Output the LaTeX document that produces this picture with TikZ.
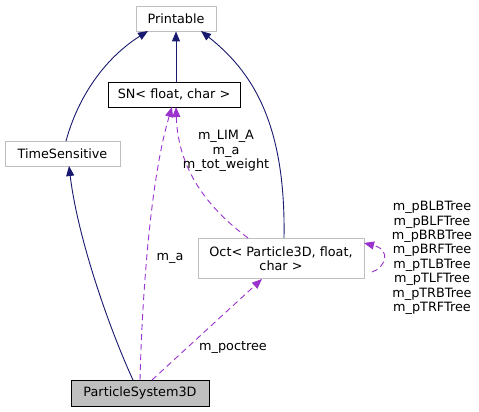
\documentclass[tikz,border=0pt]{standalone}
\usepackage{fontspec}
\setmainfont{DejaVu Sans}
\usetikzlibrary{arrows.meta}
\definecolor{navy}{HTML}{191970}
\definecolor{orchid}{HTML}{9A32CD}
\definecolor{lgray}{HTML}{BFBFBF}
\begin{document}
\begin{tikzpicture}[x=1pt,y=-1pt,
  every node/.style={font=\fontsize{12.8}{14.4}\selectfont, inner sep=0pt},
  cls/.style={draw=lgray, line width=0.9pt, fill=white, align=center},
  clsb/.style={draw=black, line width=0.9pt, fill=white, align=center},
  inh/.style={draw=navy, line width=0.9pt, -{Triangle[length=10pt,width=8pt,fill=navy]}},
  use/.style={draw=orchid, line width=0.9pt, dashed, dash pattern=on 6pt off 4pt, -{Triangle[length=10pt,width=8pt,fill=orchid]}},
  lbl/.style={align=center}]
\useasboundingbox[fill=white] (0,0) rectangle (479,412);
\node[cls, minimum width=80pt, minimum height=25pt] (pr) at (176,18.5) {Printable};
\node[clsb, minimum width=132pt, minimum height=25pt] (sn) at (174,94.5) {SN< float, char >};
\node[cls, minimum width=115pt, minimum height=25pt] (ts) at (62.5,153.5) {TimeSensitive};
\node[cls, minimum width=166pt, minimum height=40pt] (oct) at (281,258.5) {Oct< Particle3D, float,\\ char >};
\node[clsb, fill=lgray, minimum width=138pt, minimum height=26pt] (ps) at (140,393) {ParticleSystem3D};
\coordinate (ts1) at (66,141);
\coordinate (pr1) at (148,31);
\coordinate (pr3) at (201,31);
\coordinate (oct1) at (284,238);
\coordinate (ps1) at (133,380);
\coordinate (ts2) at (69,166);
\coordinate (ps2) at (140,380);
\coordinate (sn2) at (172,107);
\coordinate (oct2) at (248,238);
\coordinate (sn3) at (176,107);
\coordinate (ps3) at (152,380);
\coordinate (oct3) at (262,279);
\coordinate (oct4) at (372,272);
\coordinate (oct5) at (364,243);
\draw[inh] (ts1) .. controls (80,90) and (110,55) .. (pr1);
\draw[inh] (sn.north -| pr.south) -- (pr.south);
\draw[inh] (oct1) .. controls (286,120) and (250,70) .. (pr3);
\draw[inh] (ps1) .. controls (110,330) and (78,240) .. (ts2);
\draw[use] (ps2) .. controls (142,300) and (150,180) .. (sn2);
\draw[use] (oct2) .. controls (208,208) and (178,170) .. (sn3);
\draw[use] (ps3) -- (oct3);
\draw[use] (oct4) .. controls (385,268) and (392,250) .. (oct5);
\node[lbl] (l1) at (170,258) {m\_a};
\node[lbl] (l2) at (226,151) {m\_LIM\_A\\m\_a\\m\_tot\_weight};
\node[lbl] (l3) at (233,348) {m\_poctree};
\node[lbl] (l4) at (432,258) {m\_pBLBTree\\m\_pBLFTree\\m\_pBRBTree\\m\_pBRFTree\\m\_pTLBTree\\m\_pTLFTree\\m\_pTRBTree\\m\_pTRFTree};
\end{tikzpicture}
\end{document}
